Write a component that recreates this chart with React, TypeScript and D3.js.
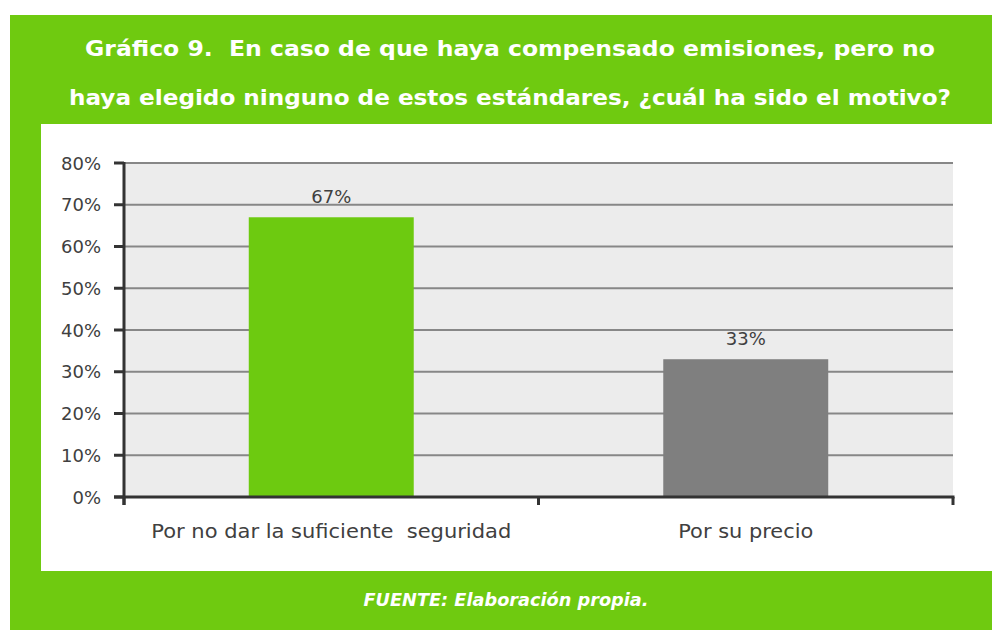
import React from "react";
import * as d3 from "d3";

const titleLines = [
  "Gráfico 9.  En caso de que haya compensado emisiones, pero no",
  "haya elegido ninguno de estos estándares, ¿cuál ha sido el motivo?",
];
const footerText = "FUENTE: Elaboración propia.";
const categories = ["Por no dar la suficiente  seguridad", "Por su precio"];
const values = [0.67, 0.33];
const valueLabels = ["67%", "33%"];
const barColors = ["#6dca10", "#7f7f7f"];
const yTicks = [0, 0.1, 0.2, 0.3, 0.4, 0.5, 0.6, 0.7, 0.8];

const W = 992;
const H = 630;
const GREEN = "#6fca10";
const TEXT = "#404040";
const FONT = "'DejaVu Sans', sans-serif";

export default function App() {
  const left = 124;
  const right = 953;
  const top = 163;
  const bottom = 497;

  const x = d3
    .scaleBand<string>()
    .domain(categories)
    .range([left, right])
    .paddingInner(0.602)
    .paddingOuter(0.301);
  const y = d3.scaleLinear().domain([0, 0.8]).range([bottom, top]);
  const fmt = d3.format(".0%");
  const boundaries = d3.range(categories.length + 1).map((i) => left + i * x.step());
  const titleWidths = [850, 882];
  const catWidths = [360, 135];

  return (
    <div style={{ position: "fixed", left: 0, top: 0 }}>
      <svg width={W} height={H} style={{ display: "block" }}>
        <rect x={0} y={0} width={W} height={H} fill="#ffffff" />
        {/* green frame */}
        <rect x={10} y={15} width={W - 10} height={H - 15} fill={GREEN} />
        {/* white panel */}
        <rect x={41} y={124} width={W - 41} height={571 - 124} fill="#ffffff" />

        {/* title */}
        {titleLines.map((t, i) => (
          <text
            key={i}
            x={510}
            y={49 + i * 49}
            textAnchor="middle"
            dominantBaseline="central"
            fill="#ffffff"
            fontFamily={FONT}
            fontWeight="bold"
            fontSize={21}
            textLength={titleWidths[i]}
            lengthAdjust="spacingAndGlyphs"
            style={{ whiteSpace: "pre" }}
          >
            {t}
          </text>
        ))}

        {/* plot background */}
        <rect x={left} y={top} width={right - left} height={bottom - top} fill="#ececec" />

        {/* gridlines */}
        {yTicks.slice(1).map((t) => (
          <line key={t} x1={left} x2={right} y1={y(t)} y2={y(t)} stroke="#878787" strokeWidth={2} />
        ))}

        {/* bars */}
        {categories.map((c, i) => (
          <rect
            key={c}
            x={x(c)}
            y={y(values[i])}
            width={x.bandwidth()}
            height={bottom - y(values[i])}
            fill={barColors[i]}
          />
        ))}

        {/* value labels */}
        {categories.map((c, i) => (
          <text
            key={c}
            x={(x(c) as number) + x.bandwidth() / 2}
            y={y(values[i]) - 21}
            textAnchor="middle"
            dominantBaseline="central"
            fill={TEXT}
            fontFamily={FONT}
            fontSize={18}
          >
            {valueLabels[i]}
          </text>
        ))}

        {/* y axis */}
        <line x1={left} x2={left} y1={top - 1} y2={bottom + 8} stroke="#333333" strokeWidth={3} />
        {yTicks.map((t) => (
          <g key={t}>
            <line x1={114} x2={left} y1={y(t)} y2={y(t)} stroke="#333333" strokeWidth={3} />
            <text
              x={101}
              y={y(t)}
              textAnchor="end"
              dominantBaseline="central"
              fill={TEXT}
              fontFamily={FONT}
              fontSize={18}
            >
              {fmt(t)}
            </text>
          </g>
        ))}

        {/* x axis */}
        <line x1={114} x2={right + 1.5} y1={bottom} y2={bottom} stroke="#333333" strokeWidth={3} />
        {boundaries.map((b, i) => (
          <line key={i} x1={b} x2={b} y1={bottom} y2={bottom + 8} stroke="#333333" strokeWidth={3} />
        ))}
        {categories.map((c, i) => (
          <text
            key={c}
            x={(x(c) as number) + x.bandwidth() / 2}
            y={531}
            textAnchor="middle"
            dominantBaseline="central"
            fill={TEXT}
            fontFamily={FONT}
            fontSize={20}
            textLength={catWidths[i]}
            lengthAdjust="spacingAndGlyphs"
            style={{ whiteSpace: "pre" }}
          >
            {c}
          </text>
        ))}

        {/* footer */}
        <text
          x={506}
          y={600}
          textAnchor="middle"
          dominantBaseline="central"
          fill="#ffffff"
          fontFamily={FONT}
          fontWeight="bold"
          fontStyle="italic"
          fontSize={17.5}
          textLength={285}
          lengthAdjust="spacingAndGlyphs"
        >
          {footerText}
        </text>
      </svg>
    </div>
  );
}
